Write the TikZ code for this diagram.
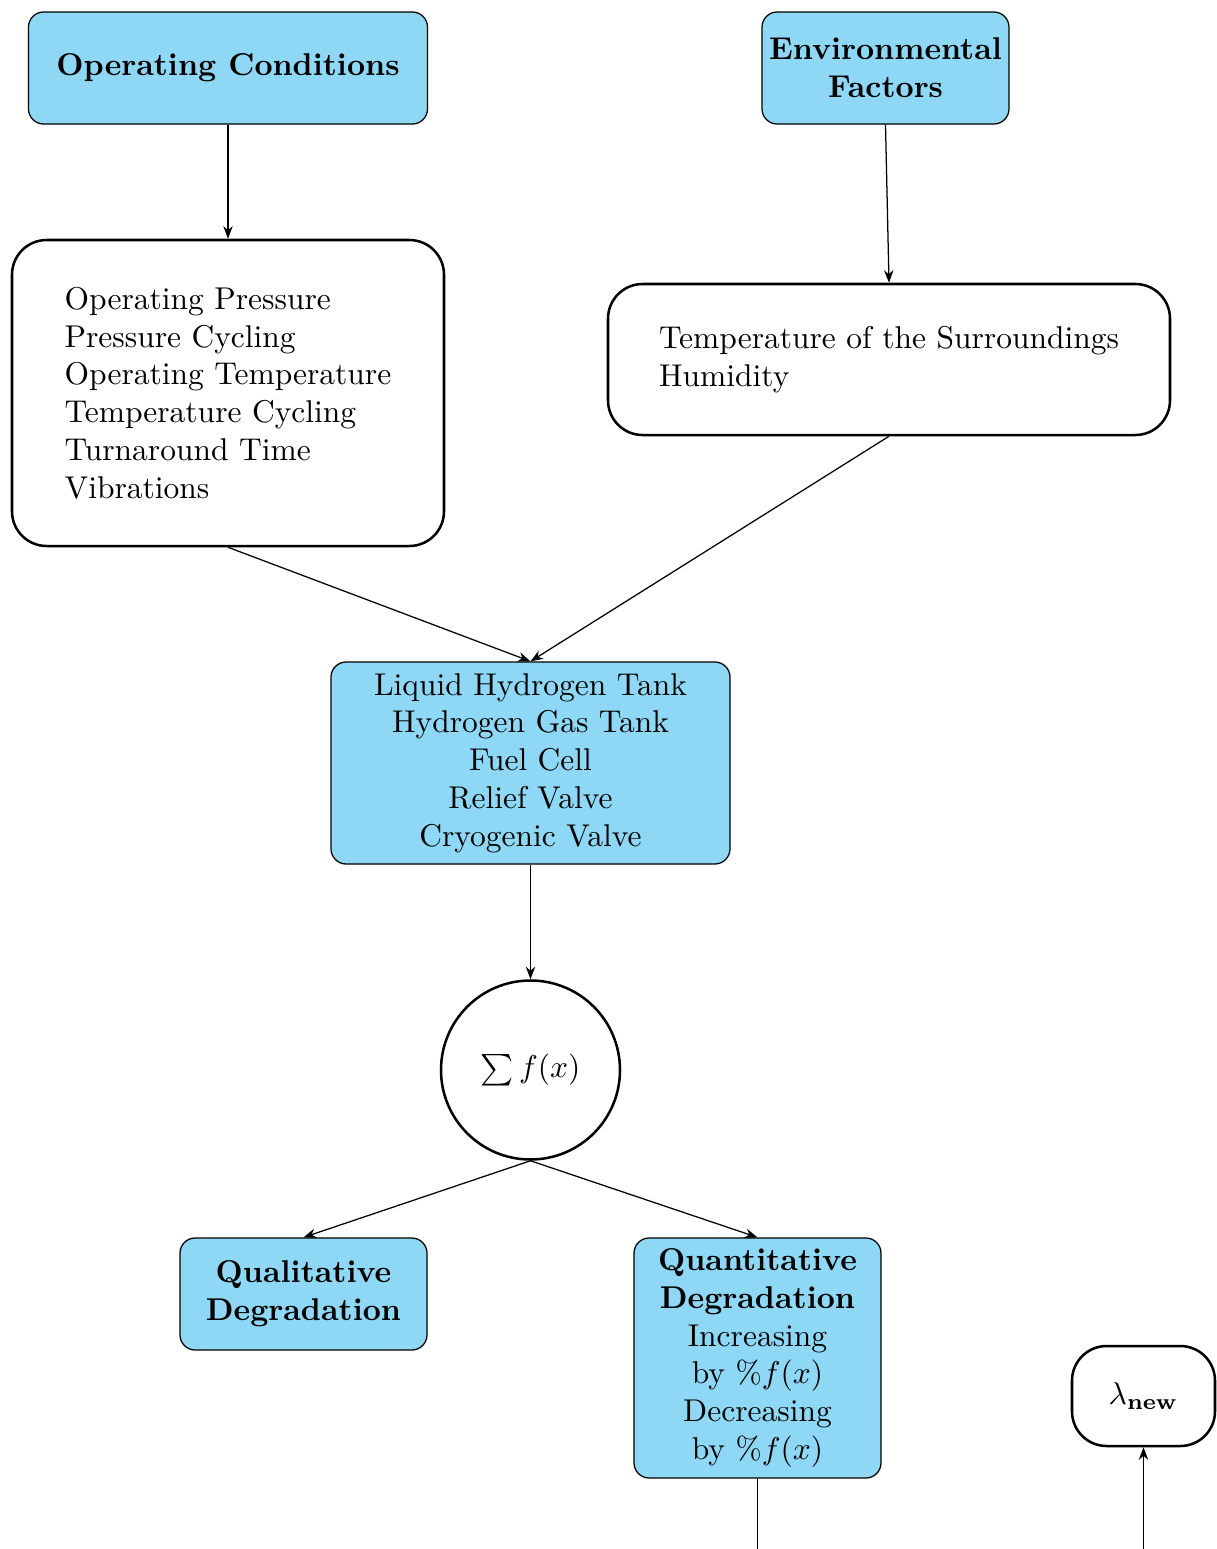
\documentclass[tikz,border=0pt]{standalone}
\usetikzlibrary{arrows.meta}
\definecolor{boxblue}{RGB}{142,216,246}
\def\pxu{0.3175pt}
\begin{document}
\begin{tikzpicture}[x=0.3175pt,y=-0.3175pt,
  bluebox/.style={draw, line width=0.4pt, fill=boxblue, rounded corners=4.8pt, align=center, inner sep=0pt, font=\bfseries},
  whitebox/.style={draw, line width=0.8pt, fill=white, rounded corners=11pt, align=left, inner sep=0pt},
  conn/.style={-{Stealth[length=4pt,width=3pt]}, line width=0.4pt}]
\clip (0,0) rectangle (1217,1549);
\node[bluebox, minimum width=399*\pxu, minimum height=112*\pxu] (oc) at (228,68) {Operating Conditions};
\node[bluebox, minimum width=247*\pxu, minimum height=112*\pxu] (ef) at (885.5,68) {Environmental\\Factors};
\node[whitebox, minimum width=432*\pxu, minimum height=306*\pxu] (op) at (228,393) {Operating Pressure\\Pressure Cycling\\Operating Temperature\\Temperature Cycling\\Turnaround Time\\Vibrations};
\node[whitebox, minimum width=562*\pxu, minimum height=151*\pxu] (env) at (889,359.5) {Temperature of the Surroundings\\Humidity};
\node[bluebox, font=\normalfont, minimum width=399*\pxu, minimum height=202*\pxu] (comp) at (530.5,763) {Liquid Hydrogen Tank\\Hydrogen Gas Tank\\Fuel Cell\\Relief Valve\\Cryogenic Valve};
\node[circle, draw, line width=0.8pt, fill=white, minimum size=179*\pxu, inner sep=0pt] (sum) at (530.5,1070) {$\sum f(x)$};
\node[bluebox, minimum width=247*\pxu, minimum height=112*\pxu] (qual) at (303.5,1294) {Qualitative\\Degradation};
\node[bluebox, minimum width=247*\pxu, minimum height=240*\pxu] (quant) at (757.5,1358) {Quantitative\\Degradation\\\mdseries Increasing\\\mdseries by $\%f(x)$\\\mdseries Decreasing\\\mdseries by $\%f(x)$};
\node[whitebox, align=center, minimum width=143*\pxu, minimum height=100*\pxu] (lam) at (1143.5,1396) {$\lambda_{\mathbf{new}}$};
\draw[conn] (oc.south) -- (op.north);
\draw[conn] (ef.south) -- (env.north);
\draw[conn] (op.south) -- (comp.north);
\draw[conn] (env.south) -- (comp.north);
\draw[conn] (comp.south) -- (sum.north);
\draw[conn] (sum.south) -- (qual.north);
\draw[conn] (sum.south) -- (quant.north);
\draw[conn] (quant.south) -- ++(0,150) -| (lam.south);
\end{tikzpicture}
\end{document}
